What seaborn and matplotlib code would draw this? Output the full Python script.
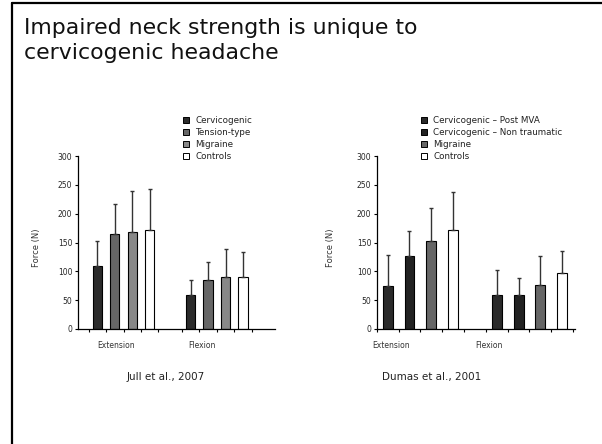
import matplotlib
matplotlib.use("Agg")
import matplotlib.pyplot as plt
from matplotlib.patches import Patch
from matplotlib.lines import Line2D
import seaborn as sns
import pandas as pd
import numpy as np

# data
movements = ["Extension", "Flexion"]

jull_groups = ["Cervicogenic", "Tension-type", "Migraine", "Controls"]
jull_mean = {"Extension": [110, 165, 168, 172], "Flexion": [59, 85, 90, 90]}
jull_sd = {"Extension": [42, 52, 72, 70], "Flexion": [26, 31, 49, 44]}
jull_colors = ["#2b2b2b", "#666666", "#888888", "#ffffff"]

dumas_groups = ["Cervicogenic – Post MVA", "Cervicogenic – Non traumatic", "Migraine", "Controls"]
dumas_mean = {"Extension": [74, 127, 152, 171], "Flexion": [59, 59, 76, 97]}
dumas_sd = {"Extension": [54, 43, 57, 67], "Flexion": [43, 30, 51, 38]}
dumas_colors = ["#2a2a2a", "#222222", "#666666", "#ffffff"]

yticks = [0, 50, 100, 150, 200, 250, 300]


def long_df(groups, mean, sd):
    rows = []
    for m in movements:
        for g, v, s in zip(groups, mean[m], sd[m]):
            rows.append({"movement": m, "group": g, "force": v, "sd": s})
    return pd.DataFrame(rows)


def panel(ax, df, groups, colors, width, gap, xlim, label_pos, ylab_x):
    sns.barplot(data=df, x="movement", y="force", hue="group", order=movements,
                hue_order=groups, palette=colors, width=width, gap=gap,
                errorbar=None, edgecolor="black", linewidth=0.8, legend=False, ax=ax)
    # one-sided SD error bars on top of each bar
    for cont, g in zip(ax.containers, groups):
        sub = df[df["group"] == g].set_index("movement").loc[movements]
        xs = [b.get_x() + b.get_width() / 2 for b in cont]
        ys = sub["force"].values
        ax.errorbar(xs, ys, yerr=[np.zeros(len(ys)), sub["sd"].values], fmt="none",
                    ecolor="#333333", elinewidth=1, capsize=1.6, capthick=1, zorder=1)
    ax.set_ylim(0, 300)
    ax.set_xlim(*xlim)
    ax.set_yticks(yticks)
    # tick marks between bars, category names as labels
    slot = width / len(groups)
    minor = []
    for c in range(len(movements)):
        minor += [c + k * slot for k in (-2, -1, 0, 1, 2)]
    ax.set_xticks(minor, minor=True)
    ax.set_xticks(label_pos)
    ax.set_xticklabels(movements)
    ax.tick_params(axis="x", which="major", bottom=True, length=0, pad=9, labelsize=5.5,
                   labelcolor="#333333")
    ax.tick_params(axis="x", which="minor", bottom=True, length=2.5, width=0.8,
                   direction="out", color="black")
    ax.tick_params(axis="y", left=True, length=2.5, width=0.8, pad=1.5, labelsize=5.5,
                   direction="out", color="black")
    ax.set_xlabel("")
    ax.set_ylabel("Force (N)", fontsize=6, color="#333333")
    ax.yaxis.set_label_coords(ylab_x, 0.47)
    for s in ("top", "right"):
        ax.spines[s].set_visible(False)
    for s in ("left", "bottom"):
        ax.spines[s].set_linewidth(0.9)
        ax.spines[s].set_color("black")


sns.set_theme(style="white")
plt.rcParams["font.family"] = ["DejaVu Sans"]

fig = plt.figure(figsize=(6.02, 4.44), dpi=100)
W, H = 602, 444

ax1 = fig.add_axes([78 / W, 1 - 329 / H, 197 / W, 173 / H])
ax2 = fig.add_axes([377 / W, 1 - 329 / H, 198 / W, 173 / H])

panel(ax1, long_df(jull_groups, jull_mean, jull_sd), jull_groups, jull_colors,
      0.75, 0.47, (-0.488, 1.624), [-0.08, 0.84], -0.19)
panel(ax2, long_df(dumas_groups, dumas_mean, dumas_sd), dumas_groups, dumas_colors,
      0.794, 0.54, (-0.393, 1.418), [-0.27, 0.63], -0.21)

for groups, colors, x0 in ((jull_groups, jull_colors, 183), (dumas_groups, dumas_colors, 421)):
    handles = [Patch(facecolor=c, edgecolor="black", linewidth=0.7) for c in colors]
    fig.legend(handles, groups, loc="upper left", bbox_to_anchor=(x0 / W, 1 - 116 / H),
               frameon=False, fontsize=6.3, handlelength=0.7, handleheight=0.7,
               handletextpad=0.7, labelspacing=0.36, borderpad=0, borderaxespad=0,
               labelcolor="#222222")

fig.text(24 / W, 1 - 18 / H, "Impaired neck strength is unique to\ncervicogenic headache",
         fontsize=15.8, va="top", ha="left", color="#111111", linespacing=1.3)
fig.text(166 / W, 1 - 377 / H, "Jull et al., 2007", fontsize=7.5, ha="center", va="center",
         color="#222222")
fig.text(432 / W, 1 - 377 / H, "Dumas et al., 2001", fontsize=7.5, ha="center", va="center",
         color="#222222")

# slide frame (left and top edges)
fig.add_artist(Line2D([12 / W, 12 / W], [0, 1 - 3 / H], color="black", lw=1.6))
fig.add_artist(Line2D([12 / W, 1], [1 - 3 / H, 1 - 3 / H], color="black", lw=1.6))

fig.savefig("out.png", dpi=100)
